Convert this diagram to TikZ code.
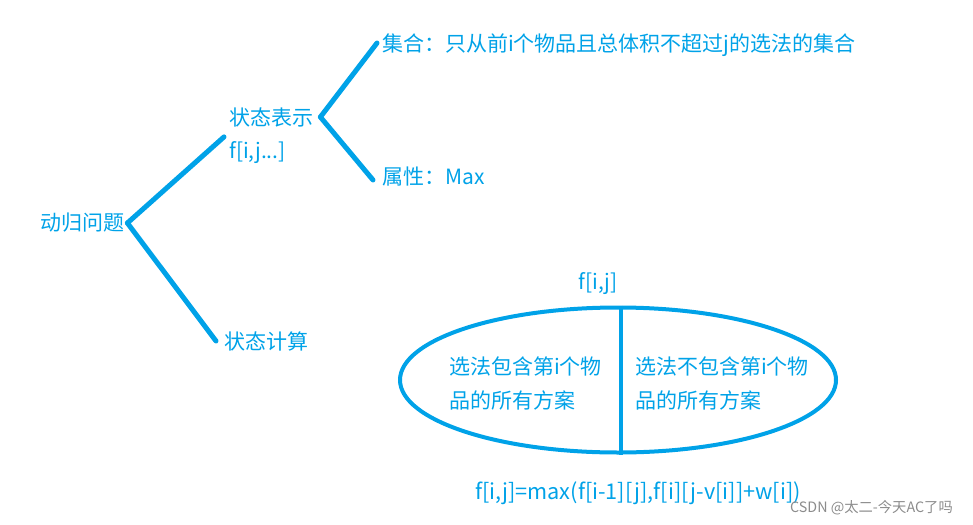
\documentclass[tikz,border=0pt]{standalone}
\usepackage{fontspec}
\setmainfont{Noto Sans CJK SC}
\usetikzlibrary{shapes.geometric}
\definecolor{paintblue}{HTML}{00A2E8}
\tikzset{
  lbl/.style={text=paintblue, inner sep=3pt, anchor=west, font=\fontsize{21}{25}\selectfont},
  branch/.style={draw=paintblue, line width=5pt, line cap=round},
  split/.style={draw=paintblue, line width=4pt},
}
\begin{document}
\begin{tikzpicture}[x=1pt,y=-1pt]
      \useasboundingbox (0,0) rectangle (973,524);
      \draw
        (37,223) node[lbl] (root){动归问题}
        (226,117) node[lbl] (st){状态表示}
        (226,153) node[lbl] (stf){f[i,j...]}
        (221,341) node[lbl] (calc){状态计算}
        (379,45) node[lbl] (set){集合：只从前i个物品且总体积不超过j的选法的集合}
        (379,177) node[lbl] (attr){属性：Max};
      \begin{scope}[branch]
        \draw (root.east) -- ([xshift=-2,yshift=-7]st.south west);
        \draw (root.east) -- ([xshift=-5]calc.west);
        \draw ([xshift=4]st.east) -- ([xshift=-2,yshift=2]set.west);
        \draw ([xshift=4]st.east) -- ([xshift=-6,yshift=-3]attr.west);
      \end{scope}
      % ellipse with the two cases
      \node[split, ellipse, minimum width=436, minimum height=145] (ell) at (618,380) {};
      \draw[split] ([xshift=3]ell.north) -- ([xshift=3]ell.south);
      \node[lbl, anchor=south] (fij) at (598,298) {f[i,j]};
      \node[lbl, align=left] (yes) at (446,383) {选法包含第i个物\\[9pt]品的所有方案};
      \node[lbl, align=left] (no) at (632,383) {选法不包含第i个物\\[9pt]品的所有方案};
      \node[lbl, font=\fontsize{21.7}{25}\selectfont] (eq) at (472,493) {f[i,j]=max(f[i-1][j],f[i][j-v[i]]+w[i])};
      \node[anchor=west, text=black!45, font=\fontsize{14.3}{16}\selectfont, inner sep=0] (mark) at (790,508) {CSDN @太二-今天AC了吗};
    \end{tikzpicture}
\end{document}
